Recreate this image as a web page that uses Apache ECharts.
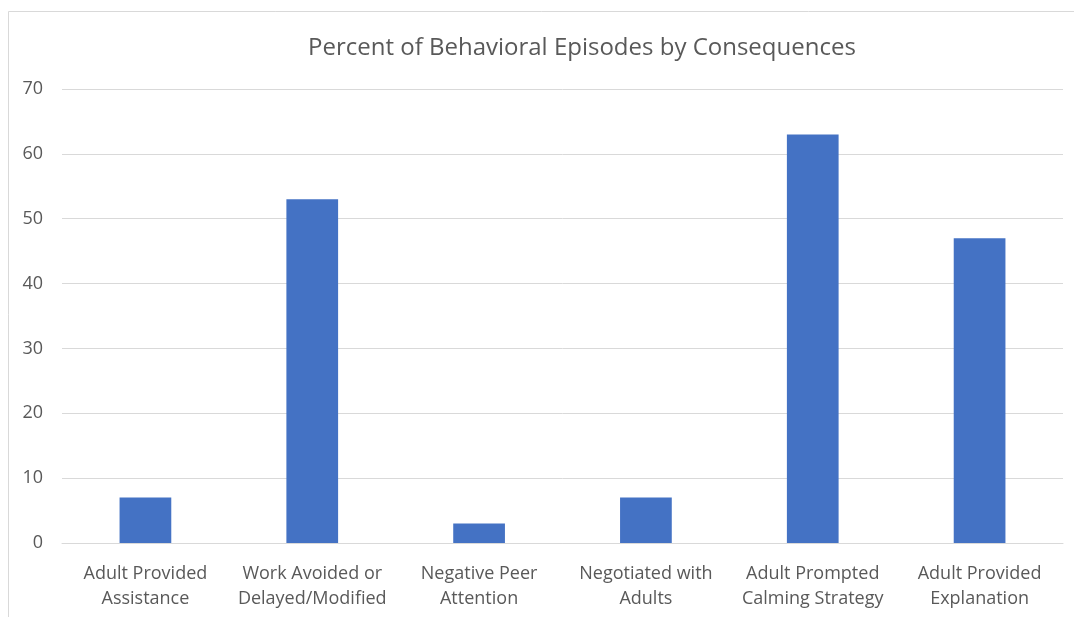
<!DOCTYPE html>
<html>
<head>
<meta charset="utf-8">
<script src="https://cdn.jsdelivr.net/npm/echarts@6/dist/echarts.min.js"></script>
<style>
  html, body { margin: 0; padding: 0; background: #fff; }
  #chart { width: 1074px; height: 617px; }
</style>
</head>
<body>
<div id="chart"></div>
<script>
const titleText = 'Percent of Behavioral Episodes by Consequences';
const categories = [
  'Adult Provided\nAssistance',
  'Work Avoided or\nDelayed/Modified',
  'Negative Peer\nAttention',
  'Negotiated with\nAdults',
  'Adult Prompted\nCalming Strategy',
  'Adult Provided\nExplanation'
];
const percentValues = [7, 53, 3, 7, 63, 47];
const yTicks = { min: 0, max: 70, interval: 10 };

const textColor = '#595959';
const fontFamily = '"Open Sans", "Noto Sans", sans-serif';

const chart = echarts.init(document.getElementById('chart'), null, { renderer: 'canvas' });
chart.setOption({
  animation: false,
  backgroundColor: '#ffffff',
  graphic: [{
    type: 'rect',
    shape: { x: 8.5, y: 11.5, width: 1200, height: 700 },
    style: { fill: 'none', stroke: '#d9d9d9', lineWidth: 1 },
    silent: true
  }],
  title: {
    text: titleText,
    left: 303,
    top: 31,
    textStyle: { color: textColor, fontSize: 24, fontWeight: 'normal', fontFamily: fontFamily }
  },
  grid: { left: 62, right: 11, top: 89, bottom: 74, containLabel: false },
  xAxis: {
    type: 'category',
    data: categories,
    axisLine: { show: true, lineStyle: { color: '#d9d9d9', width: 1 } },
    axisTick: { show: false },
    axisLabel: {
      color: textColor, fontSize: 18, fontFamily: fontFamily,
      lineHeight: 25, margin: 18, interval: 0
    }
  },
  yAxis: {
    type: 'value',
    min: yTicks.min, max: yTicks.max, interval: yTicks.interval,
    axisLine: { show: false },
    axisTick: { show: false },
    splitLine: { lineStyle: { color: '#d9d9d9', width: 1 } },
    axisLabel: { color: textColor, fontSize: 18, fontFamily: fontFamily, margin: 19 }
  },
  series: [{
    type: 'bar',
    data: percentValues,
    barWidth: '31%',
    itemStyle: { color: '#4472C4' }
  }]
});
</script>
</body>
</html>
